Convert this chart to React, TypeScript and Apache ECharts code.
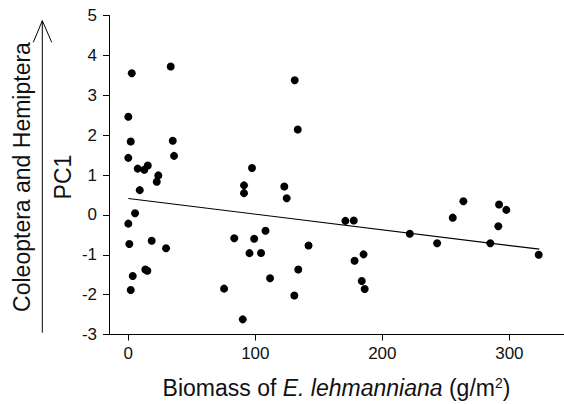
import React, { useEffect, useRef } from "react";
import * as echarts from "echarts";

const biomass = [
  2.7, 33.4, 0, 1.9, 35.0, 0, 36.0, 7.4, 12.6, 15.3, 23.6, 22.4, 9.0, 5.3, 0, 0.8, 18.4, 29.7, 3.5, 13.4, 15.0, 1.9,
  131.0, 133.4, 97.4, 91.1, 91.1, 122.8, 124.7, 83.4, 99.1, 108.0, 95.4, 104.5, 75.4, 90.1, 111.6, 130.7, 133.8, 141.9,
  170.9, 177.5, 185.2, 178.1, 183.8, 186.1, 221.6, 243.1, 263.8, 255.4, 291.9, 297.6, 291.3, 285.0, 323.1,
];
const pc1 = [
  3.55, 3.72, 2.46, 1.84, 1.86, 1.43, 1.48, 1.16, 1.13, 1.24, 0.99, 0.83, 0.62, 0.04, -0.22, -0.73, -0.65, -0.835, -1.535, -1.37, -1.4, -1.885,
  3.375, 2.14, 1.175, 0.74, 0.545, 0.71, 0.415, -0.585, -0.6, -0.4, -0.96, -0.955, -1.85, -2.62, -1.59, -2.02, -1.37, -0.77,
  -0.15, -0.14, -0.99, -1.15, -1.66, -1.86, -0.475, -0.71, 0.34, -0.07, 0.26, 0.125, -0.285, -0.71, -1.0,
];
const fitX = [0, 323.6];
const fitY = [0.41, -0.86];
const xTicks = [0, 100, 200, 300];

const FONT = "'Liberation Sans', Arial, Helvetica, sans-serif";

export default function App() {
  const ref = useRef<HTMLDivElement>(null);
  useEffect(() => {
    if (!ref.current) return;
    const chart = echarts.init(ref.current, undefined, { renderer: "svg" });
    chart.setOption({
      animation: false,
      backgroundColor: "#ffffff",
      grid: { left: 109, top: 15.5, right: 0, bottom: 68.3, containLabel: false },
      xAxis: {
        type: "value",
        min: -15.2,
        max: 343,
        splitLine: { show: false },
        axisLine: { show: true, onZero: false, lineStyle: { color: "#000", width: 1 } },
        axisTick: { show: true, length: 6, customValues: xTicks, lineStyle: { color: "#000" } },
        axisLabel: { customValues: xTicks, color: "#111", fontSize: 17, fontFamily: FONT, margin: 10 },
        name: "{n|Biomass of }{i|E. lehmanniana}{n| (g/m}{s|2}{n|)}",
        nameLocation: "middle",
        nameGap: 41,
        nameTextStyle: {
          rich: {
            n: { fontSize: 23, fontFamily: FONT, color: "#111" },
            i: { fontSize: 23, fontFamily: FONT, fontStyle: "italic", color: "#111" },
            s: { fontSize: 14, fontFamily: FONT, color: "#111", verticalAlign: "top", padding: [0, 0, 10, 0] },
          },
        },
      },
      yAxis: {
        type: "value",
        min: -3,
        max: 5,
        interval: 1,
        splitLine: { show: false },
        axisLine: { show: true, onZero: false, lineStyle: { color: "#000", width: 1 } },
        axisTick: { show: true, length: 6, lineStyle: { color: "#000" } },
        axisLabel: { color: "#111", fontSize: 17, fontFamily: FONT, margin: 12 },
      },
      graphic: [
        {
          type: "text",
          x: 22,
          y: 177,
          rotation: Math.PI / 2,
          style: {
            text: "Coleoptera and Hemiptera",
            fontSize: 23,
            fontFamily: FONT,
            fill: "#111",
            align: "center",
            verticalAlign: "middle",
          },
        },
        {
          type: "text",
          x: 63,
          y: 177,
          rotation: Math.PI / 2,
          style: {
            text: "PC1",
            fontSize: 23,
            fontFamily: FONT,
            fill: "#111",
            align: "center",
            verticalAlign: "middle",
          },
        },
        {
          type: "line",
          shape: { x1: 42.3, y1: 20.7, x2: 42.3, y2: 332.7 },
          style: { stroke: "#000", lineWidth: 1 },
        },
        {
          type: "polyline",
          shape: { points: [[33.3, 42.3], [42.3, 20.7], [51.7, 42.3]] },
          style: { stroke: "#000", lineWidth: 1, fill: null },
        },
      ],
      series: [
        {
          type: "scatter",
          data: biomass.map((x, i) => [x, pc1[i]]),
          symbol: "circle",
          symbolSize: 8,
          itemStyle: { color: "#000", opacity: 1 },
          z: 3,
        },
        {
          type: "line",
          data: fitX.map((x, i) => [x, fitY[i]]),
          symbol: "none",
          lineStyle: { color: "#000", width: 1.2 },
          z: 2,
        },
      ],
    });
    return () => chart.dispose();
  }, []);
  return <div ref={ref} style={{ position: "fixed", left: 0, top: 0, width: 564, height: 404 }} />;
}
